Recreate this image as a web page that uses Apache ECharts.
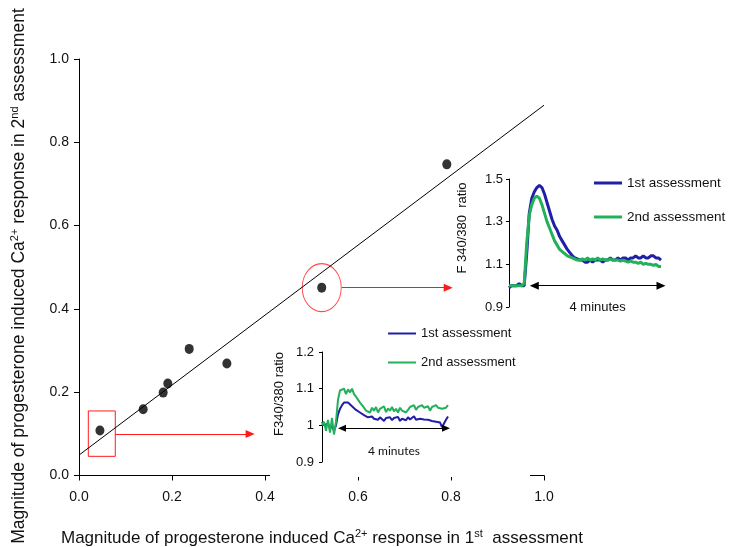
<!DOCTYPE html>
<html>
<head>
<meta charset="utf-8">
<script src="https://cdn.jsdelivr.net/npm/echarts@6/dist/echarts.min.js"></script>
<style>
html, body { margin: 0; padding: 0; background: #fff; }
#chart { width: 730px; height: 547px; }
</style>
</head>
<body>
<div id="chart"></div>
<script>
// main scatter: magnitude in 1st vs 2nd assessment
let firstResponse = [0.045, 0.138, 0.181, 0.191, 0.237, 0.318, 0.522, 0.791];
let secondResponse = [0.108, 0.159, 0.199, 0.221, 0.304, 0.269, 0.451, 0.747];
let trendX = [0, 1.0];
let trendY = [0.049, 0.889];
let mainTicks = [0, 0.2, 0.4, 0.6, 0.8, 1.0];

// big responder trace (upper inset)
let bigFirst = [0.99, 1.0, 1.0, 1.0, 1.01, 1.0, 1.0, 1.15, 1.34, 1.41,
    1.44, 1.46, 1.47, 1.46, 1.43, 1.39, 1.35, 1.31, 1.28, 1.26,
    1.23, 1.21, 1.19, 1.17, 1.155, 1.14, 1.13, 1.125, 1.12, 1.12,
    1.11, 1.11, 1.12, 1.11, 1.12, 1.12, 1.12, 1.11, 1.12, 1.12,
    1.13, 1.12, 1.12, 1.13, 1.12, 1.13, 1.13, 1.12, 1.13, 1.13,
    1.14, 1.13, 1.13, 1.14, 1.13, 1.13, 1.14, 1.14, 1.13, 1.13, 1.12];
let bigSecond = [1.0, 1.0, 1.0, 1.0, 1.0, 1.0, 1.01, 1.2, 1.33, 1.38,
    1.41, 1.42, 1.41, 1.38, 1.34, 1.30, 1.27, 1.24, 1.21, 1.19,
    1.17, 1.16, 1.15, 1.14, 1.135, 1.13, 1.125, 1.12, 1.12, 1.125,
    1.12, 1.13, 1.12, 1.125, 1.12, 1.13, 1.12, 1.125, 1.12, 1.12,
    1.125, 1.12, 1.12, 1.12, 1.115, 1.12, 1.115, 1.11, 1.115, 1.11,
    1.11, 1.105, 1.11, 1.10, 1.105, 1.10, 1.10, 1.095, 1.10, 1.09, 1.09];
let bigTicks = [0.9, 1.1, 1.3, 1.5];

// small responder trace (lower inset)
let smallFirst = [1.01, 1.0, 0.995, 1.005, 0.99, 1.0, 0.985, 1.0, 1.03, 1.045,
    1.055, 1.062, 1.065, 1.062, 1.058, 1.052, 1.048, 1.042, 1.038, 1.035,
    1.03, 1.028, 1.025, 1.022, 1.02, 1.024, 1.018, 1.02, 1.015, 1.022,
    1.018, 1.012, 1.02, 1.016, 1.022, 1.014, 1.02, 1.017, 1.023, 1.012,
    1.018, 1.02, 1.014, 1.022, 1.016, 1.02, 1.025, 1.015, 1.02, 1.018,
    1.022, 1.016, 1.02, 1.015, 1.018, 1.012, 1.016, 1.01, 1.014, 1.008,
    0.995, 1.0, 1.015, 1.024];
let smallSecond = [1.0, 1.01, 0.985, 1.015, 0.98, 1.02, 0.975, 1.01, 1.07, 1.095,
    1.09, 1.1, 1.085, 1.098, 1.09, 1.1, 1.085, 1.078, 1.07, 1.062,
    1.058, 1.048, 1.04, 1.045, 1.035, 1.048, 1.04, 1.05, 1.035, 1.045,
    1.04, 1.052, 1.036, 1.046, 1.04, 1.05, 1.038, 1.045, 1.035, 1.048,
    1.04, 1.045, 1.035, 1.042, 1.05, 1.045, 1.055, 1.042, 1.05, 1.045,
    1.055, 1.048, 1.045, 1.052, 1.04, 1.05, 1.045, 1.055, 1.048, 1.052,
    1.045, 1.05, 1.048, 1.055];
let smallTicks = [0.9, 1.0, 1.1, 1.2];

let blue = '#1f1fa8';
let green = '#22b05a';
let font = 'Liberation Sans, Arial, sans-serif';

function pairs(xs, ys) {
    return xs.map(function (x, i) { return [x, ys[i]]; });
}
function trace(ys) {
    return ys.map(function (v, i) { return [i, v]; });
}

let chartDom = document.getElementById('chart');
let myChart = echarts.init(chartDom, null, {renderer: 'canvas'});

let option = {
    animation: false,
    grid: [
        {left: 79, top: 59, width: 465, height: 416.5},
        {left: 509, top: 179, width: 152, height: 128},
        {left: 322, top: 352, width: 126, height: 110}
    ],
    xAxis: [
        {
            gridIndex: 0, type: 'value',
            min: mainTicks[0], max: mainTicks[mainTicks.length - 1], interval: 0.2,
            splitLine: {show: false},
            axisLine: {lineStyle: {color: '#000', width: 1}},
            axisTick: {length: 5, lineStyle: {color: '#000'}},
            axisLabel: {
                margin: 15, fontSize: 14, fontFamily: font, color: '#111',
                formatter: function (v) { return v.toFixed(1); }
            }
        },
        {gridIndex: 1, type: 'value', min: 0, max: bigFirst.length - 1, show: false},
        {gridIndex: 2, type: 'value', min: 0, max: smallFirst.length - 1, show: false}
    ],
    yAxis: [
        {
            gridIndex: 0, type: 'value',
            min: mainTicks[0], max: mainTicks[mainTicks.length - 1], interval: 0.2,
            splitLine: {show: false},
            axisLine: {lineStyle: {color: '#000', width: 1}},
            axisTick: {length: 5, lineStyle: {color: '#000'}},
            axisLabel: {
                margin: 10, fontSize: 14, fontFamily: font, color: '#111',
                formatter: function (v) { return v.toFixed(1); }
            }
        },
        {
            gridIndex: 1, type: 'value',
            min: bigTicks[0], max: bigTicks[bigTicks.length - 1], interval: 0.2,
            splitLine: {show: false},
            axisLine: {show: true, lineStyle: {color: '#000'}},
            axisTick: {show: true, length: 3, lineStyle: {color: '#000'}},
            axisLabel: {
                margin: 6, fontSize: 13, fontFamily: font, color: '#111',
                formatter: function (v) { return v.toFixed(1); }
            },
            name: 'F 340/380  ratio', nameLocation: 'middle', nameGap: 40, nameRotate: 90,
            nameTextStyle: {fontSize: 13, fontFamily: font, color: '#111', padding: [0, 0, 0, 30]}
        },
        {
            gridIndex: 2, type: 'value',
            min: smallTicks[0], max: smallTicks[smallTicks.length - 1], interval: 0.1,
            splitLine: {show: false},
            axisLine: {show: true, lineStyle: {color: '#000'}},
            axisTick: {show: true, length: 3, lineStyle: {color: '#000'}},
            axisLabel: {
                margin: 8, fontSize: 13, fontFamily: font, color: '#111',
                formatter: function (v) { return String(Number(v.toFixed(1))); }
            },
            name: 'F340/380 ratio', nameLocation: 'middle', nameGap: 36, nameRotate: 90,
            nameTextStyle: {fontSize: 13, fontFamily: font, color: '#111', padding: [0, 0, 0, 26]}
        }
    ],
    legend: [
        {
            left: 594, top: 176, padding: 0, orient: 'vertical', itemGap: 20,
            icon: 'rect', itemWidth: 28, itemHeight: 3,
            textStyle: {fontSize: 13.5, fontFamily: font, color: '#111'},
            data: ['1st assessment', '2nd assessment'], selectedMode: false
        },
        {
            left: 388, top: 327, padding: 0, orient: 'vertical', itemGap: 16,
            icon: 'rect', itemWidth: 28, itemHeight: 2,
            textStyle: {fontSize: 13, fontFamily: font, color: '#111'},
            data: ['1st assessment', '2nd assessment'], selectedMode: false
        }
    ],
    series: [
        {
            type: 'line', xAxisIndex: 0, yAxisIndex: 0, silent: true,
            data: pairs(trendX, trendY), symbol: 'none',
            lineStyle: {color: '#000', width: 1}
        },
        {
            type: 'scatter', xAxisIndex: 0, yAxisIndex: 0, silent: true,
            data: pairs(firstResponse, secondResponse),
            symbol: 'circle', symbolSize: [9, 10],
            itemStyle: {color: '#000'},
            markArea: {
                silent: true,
                itemStyle: {color: 'rgba(0,0,0,0)', borderColor: '#ff1a1a', borderWidth: 1},
                data: [[{coord: [0.020, 0.155]}, {coord: [0.078, 0.046]}]]
            },
            markLine: {
                silent: true, symbol: ['none', 'triangle'], symbolSize: [8, 9],
                label: {show: false},
                lineStyle: {color: '#ff1a1a', width: 1, type: 'solid'},
                data: [
                    [{coord: [0.078, 0.0996]}, {coord: [0.368, 0.0996]}],
                    [{coord: [0.565, 0.451]}, {coord: [0.794, 0.451]}]
                ]
            }
        },
        {
            // ring around the big responder
            type: 'scatter', xAxisIndex: 0, yAxisIndex: 0, silent: true,
            data: [[firstResponse[6], secondResponse[6]]],
            symbol: 'circle', symbolSize: [39, 48],
            itemStyle: {color: 'rgba(0,0,0,0)', borderColor: '#ff1a1a', borderWidth: 1}
        },
        {
            name: '1st assessment', type: 'line', xAxisIndex: 1, yAxisIndex: 1, silent: true,
            data: trace(bigFirst), symbol: 'none', color: blue,
            lineStyle: {color: blue, width: 3}
        },
        {
            name: '2nd assessment', type: 'line', xAxisIndex: 1, yAxisIndex: 1, silent: true,
            data: trace(bigSecond), symbol: 'none', color: green,
            lineStyle: {color: green, width: 3},
            markLine: {
                silent: true, symbol: ['triangle', 'triangle'], symbolSize: [8, 9],
                lineStyle: {color: '#000', width: 1.2, type: 'solid'},
                label: {
                    show: true, position: 'insideMiddleBottom', distance: 15,
                    formatter: '4 minutes', fontSize: 13, fontFamily: font, color: '#111'
                },
                data: [[{coord: [10, 1.0]}, {coord: [60, 1.0]}]]
            }
        },
        {
            name: '1st assessment', type: 'line', xAxisIndex: 2, yAxisIndex: 2, silent: true,
            data: trace(smallFirst), symbol: 'none', color: blue,
            lineStyle: {color: blue, width: 2}
        },
        {
            name: '2nd assessment', type: 'line', xAxisIndex: 2, yAxisIndex: 2, silent: true,
            data: trace(smallSecond), symbol: 'none', color: green,
            lineStyle: {color: green, width: 2},
            markLine: {
                silent: true, symbol: ['triangle', 'triangle'], symbolSize: [7, 8],
                lineStyle: {color: '#000', width: 1.2, type: 'solid'},
                label: {
                    show: true, position: 'insideMiddleBottom', distance: 17,
                    formatter: '4 minutes', fontSize: 12, fontFamily: 'Lato, sans-serif', color: '#111'
                },
                data: [[{coord: [10, 0.992]}, {coord: [62, 0.992]}]]
            }
        }
    ],
    graphic: [
        {
            // the small inset picture hides part of the x axis line
            type: 'rect', z: 100, silent: true,
            shape: {x: 270, y: 474, width: 260, height: 3},
            style: {fill: '#fff'}
        },
        {
            type: 'text', x: 61, y: 538, silent: true,
            style: {
                text: 'Magnitude of progesterone induced Ca{sup|2+} response in 1{sup|st}  assessment',
                fontSize: 17, fontFamily: font, fill: '#111',
                align: 'left', verticalAlign: 'middle', lineHeight: 20,
                rich: {sup: {fontSize: 11, fontFamily: font, fill: '#111', verticalAlign: 'top', lineHeight: 20}}
            }
        },
        {
            type: 'text', x: 19, y: 276, rotation: Math.PI / 2, silent: true,
            style: {
                text: 'Magnitude of progesterone induced Ca{sup|2+} response in 2{sup|nd} assessment',
                fontSize: 17.5, fontFamily: font, fill: '#111',
                align: 'center', verticalAlign: 'middle', lineHeight: 20,
                rich: {sup: {fontSize: 11, fontFamily: font, fill: '#111', verticalAlign: 'top', lineHeight: 20}}
            }
        }
    ]
};

option && myChart.setOption(option);
</script>
</body>
</html>
